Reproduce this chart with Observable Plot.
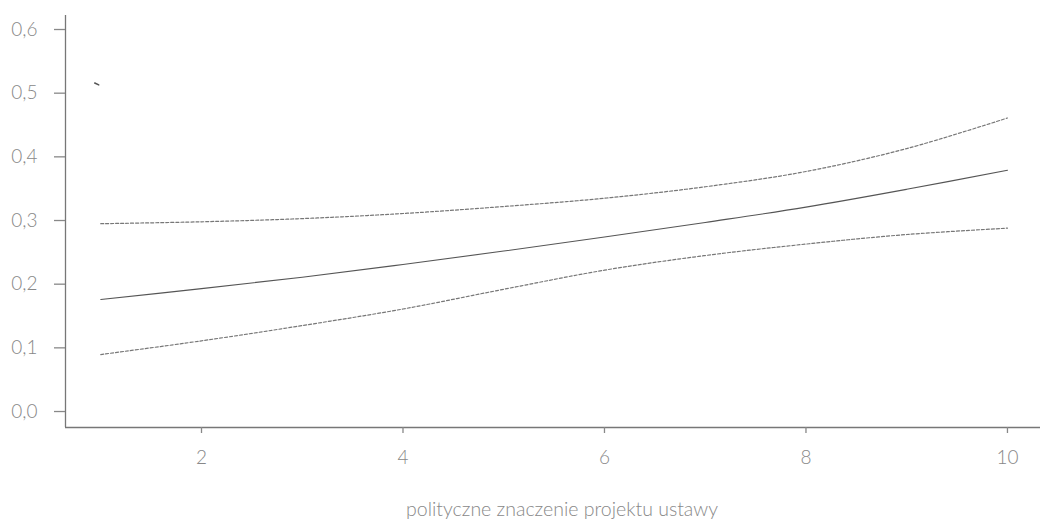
<!DOCTYPE html>
<html>
<head>
<meta charset="utf-8">
<script src="https://cdn.jsdelivr.net/npm/d3@7"></script>
<script src="https://cdn.jsdelivr.net/npm/@observablehq/plot@0.6"></script>
<style>
  html, body { margin: 0; padding: 0; background: #fff; }
</style>
</head>
<body>
<div id="chart"></div>
<script>
// Data
const xValues = [1, 2, 3, 4, 5, 6, 7, 8, 9, 10];
const estimate = [0.176, 0.193, 0.211, 0.231, 0.252, 0.274, 0.297, 0.321, 0.349, 0.379];
const upperBound = [0.295, 0.298, 0.303, 0.311, 0.322, 0.335, 0.353, 0.377, 0.413, 0.461];
const lowerBound = [0.0895, 0.111, 0.135, 0.161, 0.192, 0.222, 0.245, 0.263, 0.278, 0.288];
const strayX = [0.94, 0.98];
const strayY = [0.516, 0.513];
const xTicks = [2, 4, 6, 8, 10];
const yTicks = [0, 0.1, 0.2, 0.3, 0.4, 0.5, 0.6];
const xTitle = "polityczne znaczenie projektu ustawy";

const rows = (ys) => xValues.map((x, i) => ({x, y: ys[i]}));
const stray = strayX.map((x, i) => ({x, y: strayY[i]}));

const font = "Lato, 'Open Sans', sans-serif";

const chart = Plot.plot({
  width: 1042,
  height: 522,
  marginLeft: 65,
  marginRight: 2,
  marginTop: 15,
  marginBottom: 95,
  style: {fontFamily: font, fontSize: "19px", fontWeight: 300, background: "#fff"},
  x: {domain: [0.65, 10.328], label: null},
  y: {domain: [-0.0251, 0.622], label: null},
  marks: [
    Plot.ruleX([0.65], {stroke: "#777", strokeWidth: 1.3}),
    Plot.ruleY([-0.0251], {stroke: "#777", strokeWidth: 1.3}),
    Plot.axisY({ticks: yTicks, tickSize: 11, tickPadding: 17, color: "#888", strokeWidth: 1.3,
      tickFormat: d => d.toFixed(1).replace(".", ","), label: null}),
    Plot.axisX({ticks: xTicks, tickSize: 6, tickPadding: 17, color: "#888", strokeWidth: 1.3,
      tickFormat: d => String(d), label: null}),
    Plot.line(rows(upperBound), {x: "x", y: "y", stroke: "#777", strokeWidth: 1.2, strokeDasharray: "3,2", curve: "catmull-rom"}),
    Plot.line(rows(lowerBound), {x: "x", y: "y", stroke: "#777", strokeWidth: 1.2, strokeDasharray: "3,2", curve: "catmull-rom"}),
    Plot.line(rows(estimate), {x: "x", y: "y", stroke: "#555", strokeWidth: 1.1, curve: "catmull-rom"}),
    Plot.line(stray, {x: "x", y: "y", stroke: "#555", strokeWidth: 1.5}),
    Plot.text([xTitle], {text: d => d, frameAnchor: "bottom", dy: 88, dx: 9, fill: "#888", fontSize: 19.5})
  ]
});
document.getElementById("chart").appendChild(chart);
</script>
</body>
</html>
